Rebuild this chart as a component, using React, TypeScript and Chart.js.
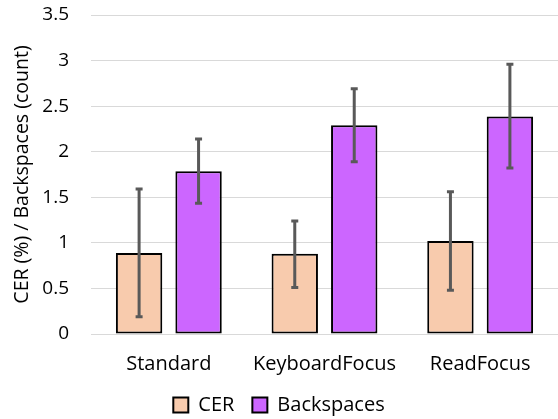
import React, { useEffect, useRef } from "react";
import { Chart, registerables } from "chart.js";

Chart.register(...registerables);

const categories = ["Standard", "KeyboardFocus", "ReadFocus"];
const cerValues = [0.89, 0.88, 1.02];
const cerLow = [0.19, 0.51, 0.48];
const cerHigh = [1.59, 1.24, 1.56];
const bsValues = [1.785, 2.29, 2.385];
const bsLow = [1.435, 1.89, 1.82];
const bsHigh = [2.14, 2.69, 2.96];
const yTicks = [0, 0.5, 1, 1.5, 2, 2.5, 3, 3.5];

const FONT = "'Open Sans', sans-serif";

const errorBars = {
  id: "errorBars",
  afterDatasetsDraw(chart: any) {
    const ctx = chart.ctx;
    const yScale = chart.scales.y;
    chart.data.datasets.forEach((ds: any, i: number) => {
      const meta = chart.getDatasetMeta(i);
      meta.data.forEach((bar: any, j: number) => {
        const x = bar.x;
        const yl = yScale.getPixelForValue(ds.errLow[j]);
        const yh = yScale.getPixelForValue(ds.errHigh[j]);
        ctx.save();
        ctx.strokeStyle = "#595959";
        ctx.lineWidth = 3;
        ctx.beginPath();
        ctx.moveTo(x, yl);
        ctx.lineTo(x, yh);
        ctx.moveTo(x - 3.5, yl);
        ctx.lineTo(x + 3.5, yl);
        ctx.moveTo(x - 3.5, yh);
        ctx.lineTo(x + 3.5, yh);
        ctx.stroke();
        ctx.restore();
      });
    });
  },
};

export default function App() {
  const ref = useRef<HTMLCanvasElement>(null);
  useEffect(() => {
    document.body.style.margin = "0";
    const chart = new Chart(ref.current!, {
      type: "bar",
      data: {
        labels: categories,
        datasets: [
          {
            label: "CER",
            data: cerValues,
            backgroundColor: "#F8CBAD",
            borderColor: "#000000",
            borderWidth: 2,
            borderSkipped: false,
            errLow: cerLow,
            errHigh: cerHigh,
          } as any,
          {
            label: "Backspaces",
            data: bsValues,
            backgroundColor: "#CC66FF",
            borderColor: "#000000",
            borderWidth: 2,
            borderSkipped: false,
            errLow: bsLow,
            errHigh: bsHigh,
          } as any,
        ],
      },
      options: {
        animation: false,
        responsive: false,
        maintainAspectRatio: false,
        layout: { padding: { top: 15, right: 0, left: 0, bottom: -6 } },
        datasets: { bar: { categoryPercentage: 0.764, barPercentage: 0.78 } },
        plugins: {
          legend: {
            position: "bottom",
            labels: {
              boxWidth: 15,
              boxHeight: 15,
              color: "#000",
              font: { family: FONT, size: 20 },
              padding: 18,
            },
          },
          tooltip: { enabled: false },
        },
        scales: {
          x: {
            grid: { display: false },
            border: { display: false },
            ticks: { color: "#000", font: { family: FONT, size: 20 }, padding: 10 },
            afterFit: (scale: any) => {
              scale.height = 43;
            },
          },
          y: {
            min: 0,
            max: 3.5,
            afterBuildTicks: (scale: any) => {
              scale.ticks = yTicks.map((v) => ({ value: v }));
            },
            afterFit: (scale: any) => {
              scale.width = 91;
              scale.paddingTop = 0;
              scale.paddingBottom = 0;
            },
            grid: { color: "#d9d9d9", lineWidth: 1, drawTicks: false },
            border: { display: false },
            ticks: {
              color: "#000",
              font: { family: FONT, size: 19 },
              padding: 22,
              callback: (v: any) => String(v),
            },
            title: {
              display: true,
              text: "CER (%) / Backspaces (count)",
              color: "#000",
              font: { family: FONT, size: 19.5 },
              padding: { top: 11, bottom: 0 },
            },
          },
        },
      },
      plugins: [errorBars],
    });
    return () => chart.destroy();
  }, []);
  return (
    <div style={{ position: "absolute", left: 0, top: 0, width: 558, height: 419 }}>
      <canvas ref={ref} width={558} height={419} />
    </div>
  );
}
